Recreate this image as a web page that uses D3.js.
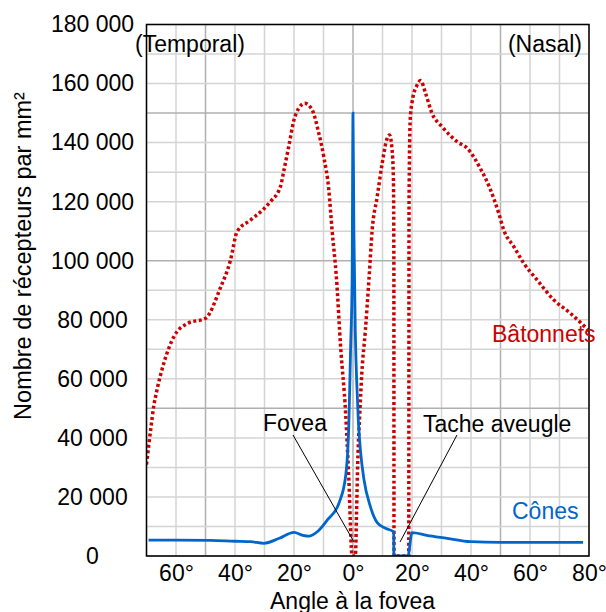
<!DOCTYPE html>
<html>
<head>
<meta charset="utf-8">
<script src="https://cdn.jsdelivr.net/npm/d3@7"></script>
<style>
  body { margin: 0; background: #fff; }
  text { font-family: "Liberation Sans", Arial, sans-serif; }
</style>
</head>
<body>
<script>
// rods (bâtonnets), angle in degrees, density per mm²
const rodAngles = [-70, -68.6, -67.5, -66.5, -64.1, -60.7, -56, -50, -45, -41.5, -39.3, -34.7, -30, -28, -24.6, -23.4, -21.8, -20, -18.4, -16.3, -13.8, -11.6, -9.9, -8.2, -7.1, -5.6, -4.2, -2.5, -1.4, -0.3, 0.8, 1.2, 1.6, 2.3, 3, 4.2, 5.4, 6.5, 8.2, 9.9, 11.4, 12.4, 13.2, 13.7, 13.85, 13.9, 18.9, 19.0, 19.4, 20.0, 20.6, 21.5, 22.9, 24.6, 26.8, 30.2, 35.3, 38.7, 40.9, 43.2, 46.3, 49.4, 51.1, 54.5, 57.9, 62.4, 68.1, 73.7, 80];
const rodValues = [31000, 42700, 51000, 56000, 65400, 74300, 78800, 80500, 90700, 100300, 109800, 113800, 117800, 120000, 125100, 130700, 138600, 147700, 151600, 153300, 151000, 143200, 135200, 124000, 110400, 94000, 70900, 48400, 25700, 0, 0, 14600, 31500, 48300, 62000, 76500, 93500, 110400, 121700, 133000, 140900, 142600, 138000, 128000, 100000, 0, 0, 120000, 148000, 153500, 156700, 159000, 161000, 156700, 149900, 145400, 140300, 138100, 135200, 131200, 124800, 116100, 110400, 104800, 99100, 93500, 86700, 82200, 76300];

// cones (cônes)
const coneAngles = [-69.3, -60, -48.3, -40, -34.7, -30.2, -25, -20, -17, -15, -12.1, -8.7, -4.8, -2.5, -1.4, -0.8, -0.3, 0, 0.3, 0.8, 1.3, 1.8, 2.5, 3.7, 5.9, 8.2, 11, 13.8, 13.85, 18.6, 20, 25, 31.9, 39.8, 50, 60, 70, 78];
const coneValues = [5400, 5400, 5300, 5000, 4850, 4300, 6000, 8000, 7000, 6700, 8200, 12200, 17800, 27000, 45000, 70900, 93500, 150000, 110000, 75000, 58000, 46000, 36000, 26000, 16700, 11300, 9400, 8200, 0, 0, 7900, 7000, 6000, 4850, 4600, 4600, 4600, 4600];

const xTicks = [-60, -40, -20, 0, 20, 40, 60, 80];
const yTicks = [0, 20000, 40000, 60000, 80000, 100000, 120000, 140000, 160000, 180000];

(() => {
  const width = 606;
  const height = 612;
  const mLeft = 146.5, mRight = 589, mTop = 24.5, mBottom = 556;

  const x = d3.scaleLinear().domain([-70, 80]).range([mLeft, mRight]);
  const y = d3.scaleLinear().domain([0, 180000]).range([mBottom, mTop]);

  const svg = d3.create("svg")
    .attr("width", width)
    .attr("height", height)
    .attr("viewBox", [0, 0, width, height]);

  svg.append("defs").append("clipPath").attr("id", "plot")
    .append("rect")
    .attr("x", mLeft).attr("y", mTop)
    .attr("width", mRight - mLeft).attr("height", mBottom - mTop);

  // grid: minor every 10° / 10 000, major every 50° / 50 000
  const grid = svg.append("g");
  grid.selectAll("line.v")
    .data(d3.range(-70, 81, 10))
    .join("line")
    .attr("class", "v")
    .attr("x1", d => x(d)).attr("x2", d => x(d))
    .attr("y1", mTop).attr("y2", mBottom)
    .attr("stroke", d => d % 50 === 0 ? "#b0b0b0" : "#d4d4d4")
    .attr("stroke-width", 1.5);
  grid.selectAll("line.h")
    .data(d3.range(0, 180001, 10000))
    .join("line")
    .attr("class", "h")
    .attr("y1", d => y(d)).attr("y2", d => y(d))
    .attr("x1", mLeft).attr("x2", mRight)
    .attr("stroke", d => d % 50000 === 0 ? "#b0b0b0" : "#d4d4d4")
    .attr("stroke-width", 1.5);

  // axes
  const fmt = v => d3.format(",")(v).replace(/,/g, " ");

  const xAxis = svg.append("g")
    .attr("transform", `translate(0,${mBottom})`)
    .call(d3.axisBottom(x).tickValues(xTicks).tickSize(0).tickPadding(9)
      .tickFormat(d => Math.abs(d) + "°"));
  xAxis.select(".domain").remove();
  xAxis.selectAll("text").attr("font-size", 23).attr("fill", "#000")
    .attr("font-family", "Liberation Sans, Arial, sans-serif");

  const yAxis = svg.append("g")
    .attr("transform", `translate(${mLeft},0)`)
    .call(d3.axisLeft(y).tickValues(yTicks).tickSize(0).tickFormat(fmt));
  yAxis.select(".domain").remove();
  yAxis.selectAll("text")
    .attr("text-anchor", "middle")
    .attr("x", 92.5 - mLeft)
    .attr("font-size", 23).attr("fill", "#000")
    .attr("font-family", "Liberation Sans, Arial, sans-serif");

  // curves
  const line = d3.line()
    .x(d => x(d[0]))
    .y(d => y(d[1]))
    .curve(d3.curveMonotoneX);

  const rods = rodAngles.map((a, i) => [a, rodValues[i]]);
  const cones = coneAngles.map((a, i) => [a, coneValues[i]]);

  const plot = svg.append("g").attr("clip-path", "url(#plot)");

  plot.append("path")
    .attr("d", line(rods))
    .attr("fill", "none")
    .attr("stroke", "#cc0000")
    .attr("stroke-width", 3.5)
    .attr("stroke-dasharray", "3,2.6");

  plot.append("path")
    .attr("d", line(cones))
    .attr("fill", "none")
    .attr("stroke", "#0066cc")
    .attr("stroke-width", 2.8);

  // frame
  svg.append("rect")
    .attr("x", mLeft).attr("y", mTop)
    .attr("width", mRight - mLeft).attr("height", mBottom - mTop)
    .attr("fill", "none")
    .attr("stroke", "#000")
    .attr("stroke-width", 1.5);

  // annotations
  const label = (tx, ty, s, anchor, color) => svg.append("text")
    .attr("x", tx).attr("y", ty)
    .attr("text-anchor", anchor || "start")
    .attr("font-size", 23)
    .attr("fill", color || "#000")
    .text(s);

  label(135, 52, "(Temporal)");
  label(582, 52, "(Nasal)", "end");
  label(263, 431, "Fovea");
  label(423, 432, "Tache aveugle");
  label(492, 342, "Bâtonnets", "start", "#cc0000");
  label(512, 519, "Cônes", "start", "#0066cc");

  svg.append("line")
    .attr("x1", 293).attr("y1", 435).attr("x2", 354).attr("y2", 542)
    .attr("stroke", "#000").attr("stroke-width", 1);
  svg.append("line")
    .attr("x1", 457).attr("y1", 435).attr("x2", 400).attr("y2", 542)
    .attr("stroke", "#000").attr("stroke-width", 1);

  label(352.5, 609, "Angle à la fovea", "middle");

  svg.append("text")
    .attr("transform", "translate(31,256) rotate(-90)")
    .attr("text-anchor", "middle")
    .attr("font-size", 23.5)
    .text("Nombre de récepteurs par mm²");

  d3.select("body").append(() => svg.node());
})();
</script>
</body>
</html>
